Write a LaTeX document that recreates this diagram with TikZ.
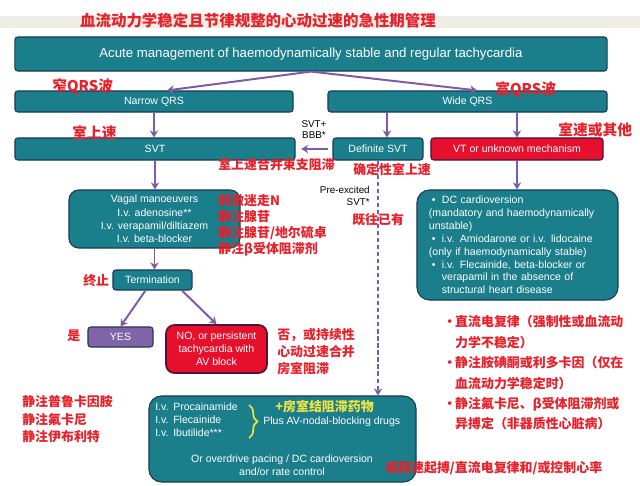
\documentclass[tikz,border=0pt]{standalone}
\usepackage{fontspec}
\setmainfont{Liberation Sans}
\newfontfamily\cjk{Noto Sans CJK SC}
\usetikzlibrary{arrows.meta,decorations.pathreplacing}

\definecolor{boxteal}{HTML}{1B7E8B}
\definecolor{boxedge}{HTML}{1E3A5A}
\definecolor{boxred}{HTML}{E6102C}
\definecolor{redge}{HTML}{4A1440}
\definecolor{yespurple}{HTML}{8064A8}
\definecolor{arrpurple}{HTML}{7D5BA6}
\definecolor{notered}{HTML}{E8202A}
\definecolor{braceyellow}{HTML}{F0E442}
\definecolor{bandgray}{HTML}{EEEEE6}

\tikzset{
  box/.style={draw=boxedge, line width=0.8pt, fill=boxteal, text=white,
    rounded corners=2pt, inner sep=0pt, align=center,
    font=\fontsize{7.5}{9.3}\selectfont},
  redbox/.style={box, fill=boxred, draw=redge},
  arr/.style={draw=arrpurple, line width=1.4pt, -{Stealth[length=5pt,width=6pt]}},
  txt/.style={inner sep=0pt, font=\fontsize{7.5}{9.3}\selectfont},
  note/.style={text=notered, inner sep=0pt, anchor=west, align=left,
    font=\cjk\bfseries\fontsize{9.2}{11.4}\selectfont},
  bignote/.style={note, font=\cjk\bfseries\fontsize{10.5}{12}\selectfont},
}

\begin{document}
\begin{tikzpicture}[x=0.025cm, y=-0.025cm]
  \useasboundingbox[fill=white] (0,0) rectangle (640,486);
  \fill[bandgray] (0,16) rectangle (640,28);
  \node[bignote, anchor=center, font=\cjk\bfseries\fontsize{11}{12}\selectfont] (title) at (258,21)
    {血流动力学稳定且节律规整的心动过速的急性期管理};

  % boxes
  \node[box, minimum width=14.8cm, minimum height=0.85cm, font=\fontsize{9.4}{11}\selectfont] (main) at (311,54)
    {Acute management of haemodynamically stable and regular tachycardia};
  \node[box, minimum width=6.95cm, minimum height=0.525cm] (narrow) at (154,101.5) {Narrow QRS};
  \node[box, minimum width=6.975cm, minimum height=0.525cm] (wide) at (467.5,101.5) {Wide QRS};
  \node[box, minimum width=7cm, minimum height=0.55cm] (svt) at (155,149) {SVT};
  \node[box, minimum width=2.25cm, minimum height=0.55cm] (dsvt) at (378,149) {Definite SVT};
  \node[redbox, minimum width=4.3cm, minimum height=0.55cm] (vt) at (517,149) {VT or unknown mechanism};
  \node[box, rounded corners=7pt, minimum width=4.275cm, minimum height=1.45cm,
    font=\fontsize{7.5}{9.5}\selectfont] (vagal) at (154.5,219)
    {Vagal manoeuvers\\I.v. adenosine**\\I.v. verapamil/diltiazem\\I.v. beta-blocker};
  \node[box, minimum width=1.975cm, minimum height=0.5cm] (term) at (152.5,280) {Termination};
  \node[box, fill=yespurple, draw=boxedge, minimum width=1.625cm, minimum height=0.5cm] (yes) at (120.5,337) {YES};
  \node[redbox, rounded corners=6pt, line width=1.2pt, minimum width=2.525cm, minimum height=1.2cm] (no) at (216.5,349)
    {NO, or persistent\\tachycardia with\\AV block};
  \node[box, rounded corners=9pt, minimum height=2.75cm, text width=4.425cm, inner xsep=0.3cm,
    align=left, font=\fontsize{7.5}{9.15}\selectfont] (drug) at (517.5,245)
    {\makebox[9.2pt][l]{\hspace{2pt}\textbullet}DC cardioversion\\
     (mandatory and haemodynamically\\
     unstable)\\
     \makebox[9.2pt][l]{\hspace{2pt}\textbullet}i.v. Amiodarone or i.v. lidocaine\\
     (only if haemodynamically stable)\\
     \makebox[9.2pt][l]{\hspace{2pt}\textbullet}i.v. Flecainide, beta-blocker or\\
     \hspace*{9.2pt}verapamil in the absence of\\
     \hspace*{9.2pt}structural heart disease};
  \node[box, rounded corners=9pt, minimum width=6.675cm, minimum height=2.15cm] (low) at (282.5,439) {};

  % text in the lower box
  \node[txt, text=white, anchor=west, align=left] (ivs) at (155,420)
    {\makebox[12.8pt][l]{I.v.}Procainamide\\
     \makebox[12.8pt][l]{I.v.}Flecainide\\
     \makebox[12.8pt][l]{I.v.}Ibutilide***};
  \coordinate (b1) at (249,405);
  \coordinate (b2) at (249,438);
  \draw[braceyellow, line width=1.2pt, decorate, decoration={brace, amplitude=6pt}] (b1) -- (b2);
  \node[txt, text=white, anchor=west] (plus) at (263,422) {Plus AV-nodal-blocking drugs};
  \node[note, text=braceyellow] (plusc) at (275,407) {+房室结阻滞药物};
  \node[txt, text=white, align=center] (pace) at (282,465.5)
    {Or overdrive pacing / DC cardioversion\\and/or rate control};

  % small labels
  \node[txt, align=center, font=\fontsize{7}{7.8}\selectfont] (bbb) at (314,130) {SVT+\\BBB*};
  \node[txt, anchor=east, align=right, font=\fontsize{7}{8.5}\selectfont] (pre) at (370,196) {Pre-excited\\SVT*};

  % connectors
  \draw[arr] (main.south) -- ([xshift=0.325cm]narrow.north);
  \draw[arr] (main.south) -- ([xshift=0.24cm]wide.north);
  \draw[arr] (narrow.south) -- (narrow.south |- svt.north);
  \coordinate (w1) at (387,112);
  \draw[arr] (w1) -- (w1 |- dsvt.north);
  \draw[arr] (vt.north |- wide.south) -- (vt.north);
  \draw[arr] ([xshift=-3pt]dsvt.west) -- ([xshift=4pt]svt.east);
  \draw[arr] (svt.south) -- (svt.south |- vagal.north);
  \draw[arr] (vagal.south) -- (vagal.south |- term.north);
  \draw[arr] ([xshift=-5pt]term.south) -- (yes.north);
  \draw[arr] ([xshift=21pt]term.south) -- (no.north);
  \draw[arr] (vt.south) -- (vt.south |- drug.north);
  \draw[arr, dashed, dash pattern=on 3pt off 2pt] (dsvt.south) -- (dsvt.south |- low.north);

  % red notes
  \node[bignote] (n1) at (52,87) {窄QRS波};
  \node[bignote] (n2) at (495,90) {宽QRS波};
  \node[bignote] (n3) at (72,133) {室上速};
  \node[bignote] (n4) at (558,130) {室速或其他};
  \node[note] (n5) at (218,165) {室上速合并束支阻滞};
  \node[note] (n6) at (353,169) {确定性室上速};
  \node[note] (n7) at (352,220) {既往已有};
  \node[note] (n8) at (218,225) {刺激迷走N\\静注腺苷\\静注腺苷/地尔硫卓\\静注β受体阻滞剂};
  \node[note] (n9) at (83,281) {终止};
  \node[note] (n10) at (67,336) {是};
  \node[note, font=\cjk\bfseries\fontsize{9.2}{12.1}\selectfont] (n11) at (277,352) {否，或持续性\\心动过速合并\\房室阻滞};
  \node[note, font=\cjk\bfseries\fontsize{9.2}{12.4}\selectfont] (n12) at (22,419.5) {静注普鲁卡因胺\\静注氟卡尼\\静注伊布利特};
  \node[note, font=\cjk\bfseries\fontsize{9.2}{14.5}\selectfont] (n13) at (443,373)
    {\makebox[8.5pt][l]{·}直流电复律（强制性或血流动\\
     \hspace*{8.5pt}力学不稳定）\\
     \makebox[8.5pt][l]{·}静注胺碘酮或利多卡因（仅在\\
     \hspace*{8.5pt}血流动力学稳定时）\\
     \makebox[8.5pt][l]{·}静注氟卡尼、β受体阻滞剂或\\
     \hspace*{8.5pt}异搏定（非器质性心脏病）};
  \node[note] (n14) at (385,468) {或超速起搏/直流电复律和/或控制心率};
\end{tikzpicture}
\end{document}
